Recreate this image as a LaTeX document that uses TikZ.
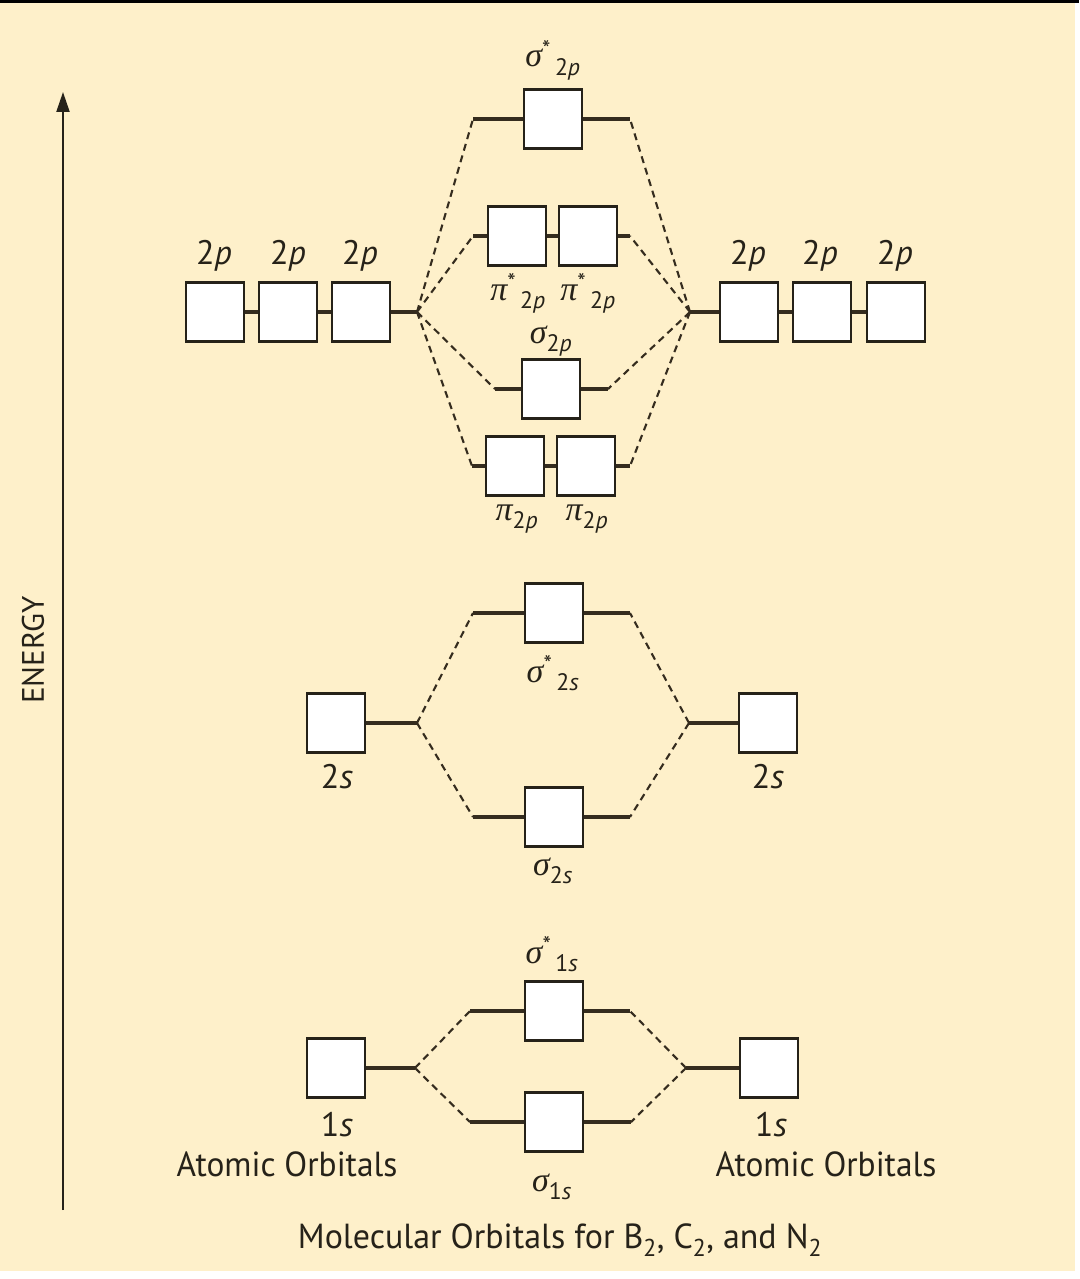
\documentclass[tikz,border=0pt]{standalone}
\usepackage{fontspec}
\setmainfont{PT Sans}
\newfontfamily\grkfont{Liberation Serif}
\usetikzlibrary{arrows.meta}
\definecolor{bg}{HTML}{FEF0CA}
\definecolor{ink}{HTML}{262219}
\definecolor{lin}{HTML}{352C1E}
\newcommand\mysig{{\grkfont\itshape σ}}
\newcommand\mypi{{\grkfont\itshape π}}
\newcommand\mysub[1]{\textsubscript{#1}}
\begin{document}
\begin{tikzpicture}[x=1pt,y=-1pt,
  orb/.style={draw=ink, fill=white, line width=2.4pt, minimum width=58pt, minimum height=59pt, inner sep=0pt},
  lvl/.style={draw=lin, line width=3.4pt},
  corr/.style={draw=lin, line width=2.1pt, dash pattern=on 7pt off 5pt},
  lab/.style={text=ink, font=\fontsize{34}{38}\selectfont, inner sep=0pt},
  glab/.style={text=ink, font=\fontsize{34}{38}\selectfont, inner sep=0pt, anchor=base},
  mlab/.style={text=ink, font=\fontsize{34.8}{39}\selectfont, inner sep=0pt, anchor=base},
  ]
\useasboundingbox (0,0) rectangle (1079,1279);
\fill[white] (0,0) rectangle (1079,1279);
\fill[bg] (0,0) rectangle (1075,1271);
\fill[black] (0,0) rectangle (1079,3);

% energy axis
\coordinate (ebot) at (63,1210);
\coordinate (etop) at (63,92);
\draw[draw=ink, line width=2.2pt, -{Triangle[length=20pt,width=13pt]}] (ebot) -- (etop);
\node[lab, rotate=90, font=\fontsize{31}{34}\selectfont] (energy) at (33,650) {ENERGY};

% ---------- 2p ----------
\node[orb] (sps) at (553,119) {};
\node[orb] (pisa) at (517,236) {};
\node[orb] (pisb) at (588,236) {};
\node[orb] (sp) at (551,389) {};
\node[orb] (pia) at (515,466) {};
\node[orb] (pib) at (586,466) {};
\node[orb] (lpa) at (215,312) {};
\node[orb] (lpb) at (288,312) {};
\node[orb] (lpc) at (361,312) {};
\node[orb] (rpa) at (749,312) {};
\node[orb] (rpb) at (822,312) {};
\node[orb] (rpc) at (896,312) {};

\coordinate (spsL) at (473,119);  \coordinate (spsR) at (630,119);
\coordinate (pisL) at (473,236);  \coordinate (pisR) at (630,236);
\coordinate (spL) at (495,389);   \coordinate (spR) at (608,389);
\coordinate (piL) at (472,466);   \coordinate (piR) at (630,466);
\coordinate (lpj) at (417,312);   \coordinate (rpj) at (690,312);

\draw[lvl] (spsL) -- (sps.west) (sps.east) -- (spsR);
\draw[lvl] (pisL) -- (pisa.west) (pisa.east) -- (pisb.west) (pisb.east) -- (pisR);
\draw[lvl] (spL) -- (sp.west) (sp.east) -- (spR);
\draw[lvl] (piL) -- (pia.west) (pia.east) -- (pib.west) (pib.east) -- (piR);
\draw[lvl] (lpa.east) -- (lpb.west) (lpb.east) -- (lpc.west) (lpc.east) -- (lpj);
\draw[lvl] (rpj) -- (rpa.west) (rpa.east) -- (rpb.west) (rpb.east) -- (rpc.west);

\draw[corr] (lpj) -- (spsL) (lpj) -- (pisL) (lpj) -- (spL) (lpj) -- (piL);
\draw[corr] (rpj) -- (spsR) (rpj) -- (pisR) (rpj) -- (spR) (rpj) -- (piR);

\node[lab] (tlpa) at (214,256) {2\textit{p}};
\node[lab] (tlpb) at (288,256) {2\textit{p}};
\node[lab] (tlpc) at (360,256) {2\textit{p}};
\node[lab] (trpa) at (748,256) {2\textit{p}};
\node[lab] (trpb) at (820,256) {2\textit{p}};
\node[lab] (trpc) at (895,256) {2\textit{p}};

\node[glab] (tsps) at (553,67) {\mysig\textsuperscript{*}\mysub{\,2\textit{p}}};
\node[glab] (tpisa) at (518,300) {\mypi\textsuperscript{*}\mysub{\,2\textit{p}}};
\node[glab] (tpisb) at (588,300) {\mypi\textsuperscript{*}\mysub{\,2\textit{p}}};
\node[glab] (tsp) at (551,343) {\mysig\mysub{2\textit{p}}};
\node[glab] (tpia) at (517,520) {\mypi\mysub{2\textit{p}}};
\node[glab] (tpib) at (587,520) {\mypi\mysub{2\textit{p}}};

% ---------- 2s ----------
\node[orb] (sss) at (554,613) {};
\node[orb] (ss) at (554,817) {};
\node[orb] (lss) at (336,723) {};
\node[orb] (rss) at (768,723) {};
\coordinate (sssL) at (473,613); \coordinate (sssR) at (630,613);
\coordinate (ssL) at (473,817);  \coordinate (ssR) at (630,817);
\coordinate (lsj) at (417,723);  \coordinate (rsj) at (689,723);
\draw[lvl] (sssL) -- (sss.west) (sss.east) -- (sssR);
\draw[lvl] (ssL) -- (ss.west) (ss.east) -- (ssR);
\draw[lvl] (lss.east) -- (lsj) (rsj) -- (rss.west);
\draw[corr] (lsj) -- (sssL) (lsj) -- (ssL) (rsj) -- (sssR) (rsj) -- (ssR);

\node[glab] (tsss) at (553,682) {\mysig\textsuperscript{*}\mysub{\,2\textit{s}}};
\node[glab] (tss) at (553,875) {\mysig\mysub{2\textit{s}}};
\node[glab] (tlss) at (337,788) {2\textit{s}};
\node[glab] (trss) at (768,788) {2\textit{s}};

% ---------- 1s ----------
\node[orb] (s1s) at (554,1011) {};
\node[orb] (s1) at (554,1122) {};
\node[orb] (l1) at (336,1068) {};
\node[orb] (r1) at (769,1068) {};
\coordinate (s1sL) at (470,1011); \coordinate (s1sR) at (630,1011);
\coordinate (s1L) at (470,1122);  \coordinate (s1R) at (631,1122);
\coordinate (l1j) at (415,1068);  \coordinate (r1j) at (686,1068);
\draw[lvl] (s1sL) -- (s1s.west) (s1s.east) -- (s1sR);
\draw[lvl] (s1L) -- (s1.west) (s1.east) -- (s1R);
\draw[lvl] (l1.east) -- (l1j) (r1j) -- (r1.west);
\draw[corr] (l1j) -- (s1sL) (l1j) -- (s1L) (r1j) -- (s1sR) (r1j) -- (s1R);

\node[glab] (ts1s) at (552,963) {\mysig\textsuperscript{*}\mysub{\,1\textit{s}}};
\node[glab] (ts1) at (552,1191) {\mysig\mysub{1\textit{s}}};
\node[glab] (tl1) at (337,1136) {1\textit{s}};
\node[glab] (tr1) at (771,1136) {1\textit{s}};
\node[mlab, xscale=0.96] (tlao) at (287,1176) {Atomic Orbitals};
\node[mlab, xscale=0.96] (trao) at (826,1176) {Atomic Orbitals};
\node[mlab, xscale=0.975] (title) at (560,1248) {Molecular Orbitals for B\textsubscript{2}, C\textsubscript{2}, and N\textsubscript{2}};
\end{tikzpicture}
\end{document}
